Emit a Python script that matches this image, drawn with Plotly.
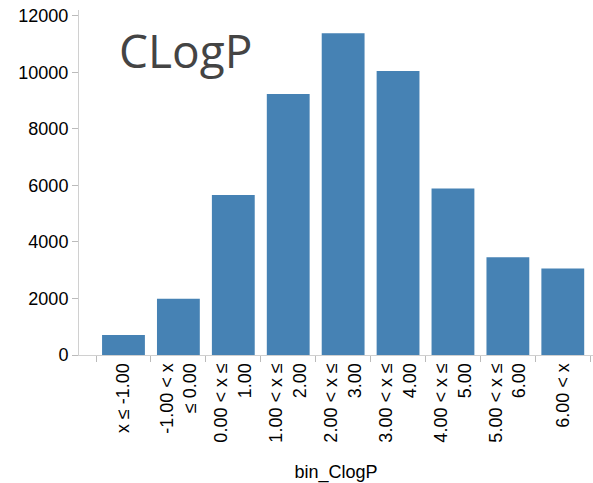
import plotly.graph_objects as go

categories = ["x ≤ -1.00", "-1.00 < x<br>≤ 0.00", "0.00 < x ≤<br>1.00", "1.00 < x ≤<br>2.00",
              "2.00 < x ≤<br>3.00", "3.00 < x ≤<br>4.00", "4.00 < x ≤<br>5.00", "5.00 < x ≤<br>6.00",
              "6.00 < x"]
counts = [710, 1990, 5660, 9240, 11390, 10050, 5890, 3460, 3060]
y_ticks = [0, 2000, 4000, 6000, 8000, 10000, 12000]

fig = go.Figure(go.Bar(x=categories, y=counts, marker=dict(color="#4682b4", line=dict(width=0))))

fig.update_layout(
    width=593, height=483,
    margin=dict(l=79, r=0, t=10, b=128),
    plot_bgcolor="white", paper_bgcolor="white",
    bargap=0.22,
    showlegend=False,
    font=dict(family="Liberation Sans, Arial", size=18, color="#000"),
    annotations=[dict(text="CLogP", xref="paper", yref="paper", x=0.074, y=0.884,
                      xanchor="left", yanchor="middle", showarrow=False,
                      font=dict(family="Open Sans", size=46, color="#444"))],
)
fig.update_xaxes(
    type="category", range=[-0.81, 8.55], automargin=False,
    showline=True, linecolor="#d0d0d0", linewidth=1,
    ticks="outside", ticklen=6, tickcolor="#bbb", tickson="boundaries",
    tickangle=-90, showgrid=False,
    title=dict(text="bin_ClogP", standoff=23, font=dict(size=18)),
)
fig.update_yaxes(
    range=[0, 12210], tickvals=y_ticks, tickformat="d", automargin=False,
    ticklabeloverflow="allow",
    showline=True, linecolor="#d0d0d0", linewidth=1,
    ticks="outside", ticklen=6, tickcolor="#bbb",
    showgrid=False, zeroline=False,
)
fig.write_html("out.html", config={"displayModeBar": False},
               post_script="document.body.style.margin='0';")
